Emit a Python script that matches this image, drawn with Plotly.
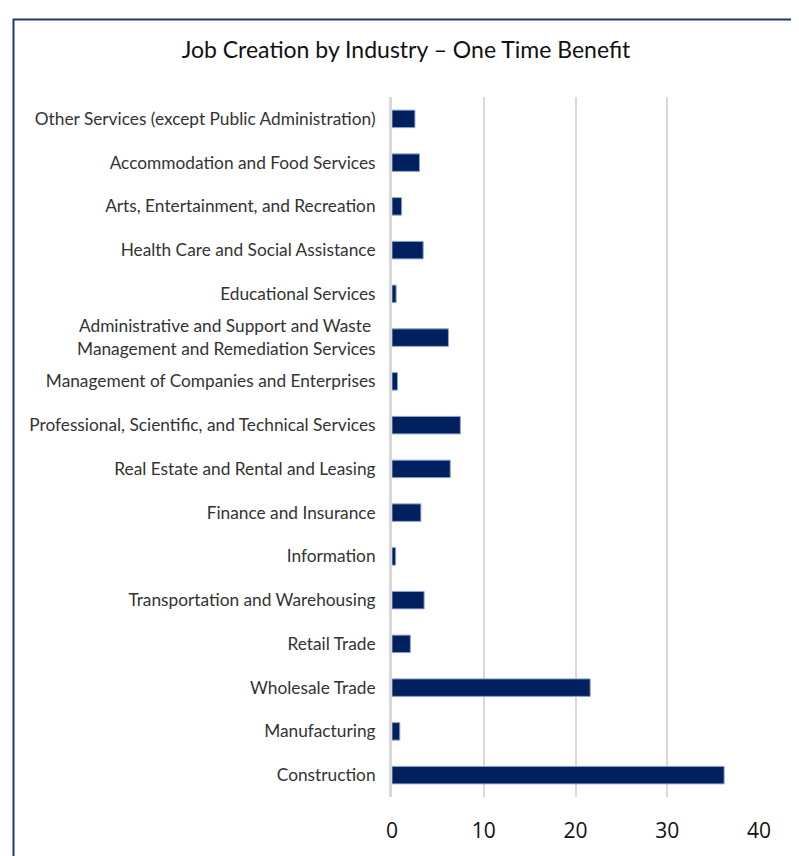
import plotly.graph_objects as go

categories = [
    "Construction",
    "Manufacturing",
    "Wholesale Trade",
    "Retail Trade",
    "Transportation and Warehousing",
    "Information",
    "Finance and Insurance",
    "Real Estate and Rental and Leasing",
    "Professional, Scientific, and Technical Services",
    "Management of Companies and Enterprises",
    "Administrative and Support and Waste <br>Management and Remediation Services",
    "Educational Services",
    "Health Care and Social Assistance",
    "Arts, Entertainment, and Recreation",
    "Accommodation and Food Services",
    "Other Services (except Public Administration)",
]
jobs = [36.2, 0.85, 21.6, 2.0, 3.5, 0.4, 3.15, 6.35, 7.45, 0.6, 6.15, 0.45, 3.4, 1.05, 3.0, 2.5]
x_ticks = [0, 10, 20, 30, 40]
title_text = "Job Creation by Industry – One Time Benefit"

OFF = 8  # page body margin
W, H = 799 - OFF, 856 - OFF
L, R, T, B = 392 - OFF, 759 - OFF, 97 - OFF, 797 - OFF

fig = go.Figure(go.Bar(
    x=jobs, y=categories, orientation="h",
    marker=dict(color="#002060", line=dict(color="#8FA3CC", width=1)),
    width=0.4,
))

def px(xp):
    return (xp - OFF - L) / (R - L)

def py(yp):
    return (B - (yp - OFF)) / (B - T)

fig.add_shape(type="rect", xref="paper", yref="paper",
              x0=px(13.5), x1=px(812), y0=py(19.5), y1=py(870),
              line=dict(color="#1F3A7A", width=2), fillcolor="rgba(0,0,0,0)", layer="below")

fig.update_layout(
    width=W, height=H,
    margin=dict(l=L, r=W - R, t=T, b=H - B, pad=0),
    paper_bgcolor="white", plot_bgcolor="white",
    showlegend=False,
    title=dict(text=title_text, x=(406 - OFF) / W, xanchor="center", y=1 - (50 - OFF) / H, yanchor="middle",
               font=dict(family="Lato, Noto Sans, sans-serif", size=23, color="#111111")),
    bargap=0.6,
)
fig.update_xaxes(
    range=[0, 40], tickvals=x_ticks, showgrid=True, gridcolor="#D9D9D9", gridwidth=2,
    zeroline=False, showline=False, ticks="",
    tickfont=dict(family="Open Sans, Liberation Sans, sans-serif", size=21, color="#111111"),
    ticklabelstandoff=19,
)
fig.update_yaxes(
    categoryorder="array", categoryarray=categories,
    showgrid=False, zeroline=False, showline=True, linecolor="#D9D9D9", linewidth=3,
    ticks="", ticklabelstandoff=10,
    tickfont=dict(family="Lato, Noto Sans, sans-serif", size=17.3, color="#333333"),
)

fig.write_html("out.html")
